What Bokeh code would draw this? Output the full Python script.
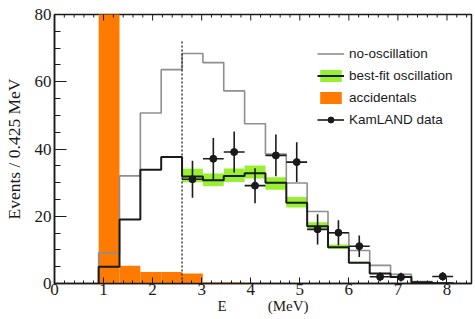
import numpy as np
from bokeh.plotting import figure
from bokeh.models import Range1d, SingleIntervalTicker, Legend, LegendItem
from bokeh.embed import file_html
from bokeh.resources import INLINE

# Prompt-energy binning (MeV)
bin_width = 0.425
bin_lo = [0.9, 1.325, 1.75, 2.175, 2.6, 3.025, 3.45, 3.875, 4.3, 4.725,
          5.15, 5.575, 6.0, 6.425, 6.85, 7.275, 7.7]

# Expected spectra per bin
no_osc = [9.1, 32.0, 50.7, 63.6, 68.4, 65.7, 57.3, 47.5, 38.5, 29.9,
          21.4, 15.1, 9.8, 5.4, 2.7, 0.6, 0.2]
best_fit = [5.0, 19.0, 33.8, 37.6, 31.8, 30.7, 32.0, 32.8, 30.0, 24.0,
            17.0, 10.8, 6.2, 3.0, 1.9, 0.4, 0.1]
accidentals = [100.0, 5.3, 3.4, 3.4, 3.0, 0.3, 0.3, 0.0, 0.0, 0.0,
               0.0, 0.0, 0.0, 0.0, 0.0, 0.0, 0.0]

# Best-fit uncertainty band above the analysis threshold
band_lo_edge = [2.6, 3.025, 3.45, 3.875, 4.3, 4.725, 5.15, 5.575, 6.0]
band_low = [30.1, 28.9, 30.2, 31.2, 27.9, 22.6, 16.3, 10.3, 6.0]
band_high = [34.1, 32.7, 34.2, 35.1, 31.6, 25.7, 18.2, 11.6, 6.5]

# KamLAND data points
data_e = [2.8125, 3.2375, 3.6625, 4.0875, 4.5125, 4.9375, 5.3625, 5.7875,
          6.2125, 6.6375, 7.0625, 7.9125]
data_n = [31.0, 37.1, 39.1, 29.1, 38.1, 36.1, 16.1, 15.1, 11.1, 2.0, 1.9, 2.1]
data_err = [5.5, 6.2, 6.1, 5.2, 6.2, 5.9, 4.5, 3.7, 3.2, 1.3, 1.3, 1.3]

threshold = 2.6
threshold_top = 72

X_MAX, Y_MAX = 8.5, 80
x_major_step = 1
x_minor_step = 0.2
y_major_step = 20

ORANGE = "#ff7b00"
GREEN = "#98f030"
GREY = "#8e8e8e"
INK = "#1a1a1a"
SERIF = "Liberation Serif"
SANS = "Liberation Sans"
NBSP = "\u00a0"


def step_path(lo_edges, width, vals):
    xs, ys = [lo_edges[0]], [0.0]
    for lo, v in zip(lo_edges, vals):
        xs += [lo, lo + width]
        ys += [v, v]
    xs.append(lo_edges[-1] + width)
    ys.append(0.0)
    return xs, ys


p = figure(width=475, height=319, output_backend="svg", toolbar_location=None,
           x_range=Range1d(0, X_MAX), y_range=Range1d(0, Y_MAX),
           min_border_left=53, min_border_right=4, min_border_top=14,
           min_border_bottom=36, background_fill_color="white",
           border_fill_color="white")
p.grid.visible = False
p.outline_line_color = INK
p.outline_line_width = 1.5

# Axes: ticks pointing into the frame
p.xaxis.ticker = SingleIntervalTicker(interval=x_major_step, num_minor_ticks=5)
p.yaxis.ticker = SingleIntervalTicker(interval=y_major_step, num_minor_ticks=4)
for ax in (p.xaxis[0], p.yaxis[0]):
    ax.major_tick_out = 0
    ax.minor_tick_out = 0
    ax.axis_line_color = INK
    ax.axis_line_width = 1.5
    ax.major_tick_line_color = INK
    ax.minor_tick_line_color = INK
    ax.major_label_text_font = SERIF
    ax.major_label_text_font_size = "17px"
    ax.major_label_text_color = INK
    ax.axis_label_text_font = SERIF
    ax.axis_label_text_font_style = "normal"
    ax.axis_label_text_color = INK
p.xaxis.major_tick_in = 6
p.xaxis.minor_tick_in = 3
p.xaxis.major_label_standoff = 0
p.xaxis.axis_label = "E" + NBSP * 11 + "(MeV)"
p.xaxis.axis_label_text_font_size = "15px"
p.xaxis.axis_label_standoff = 0
p.yaxis.major_tick_in = 12
p.yaxis.minor_tick_in = 6
p.yaxis.major_label_standoff = 3
p.yaxis.axis_label = "Events / 0.425 MeV"
p.yaxis.axis_label_text_font_size = "17.5px"
p.yaxis.axis_label_standoff = 8

lo = np.array(bin_lo)

# Accidental background
r_acc = p.quad(left=lo, right=lo + bin_width, bottom=0, top=accidentals,
               fill_color=ORANGE, line_color=None)

# Best-fit uncertainty band
blo = np.array(band_lo_edge)
r_band = p.quad(left=blo, right=blo + bin_width, bottom=band_low, top=band_high,
                fill_color=GREEN, line_color=None)

# Expected spectra
xs, ys = step_path(bin_lo, bin_width, no_osc)
r_noosc = p.line(xs, ys, line_color=GREY, line_width=1.6)
xs, ys = step_path(bin_lo, bin_width, best_fit)
r_fit = p.line(xs, ys, line_color=INK, line_width=2)

# Analysis threshold
p.segment(x0=[threshold], y0=[0], x1=[threshold], y1=[threshold_top],
          line_color=INK, line_width=1.3, line_dash="2 2")

# Data with errors
de = np.array(data_e)
dn = np.array(data_n)
dr = np.array(data_err)
r_xerr = p.segment(x0=de - bin_width / 2, x1=de + bin_width / 2, y0=dn, y1=dn,
                   line_color=INK, line_width=1.6)
p.segment(x0=de, x1=de, y0=dn - dr, y1=dn + dr, line_color=INK, line_width=1.6)
r_pts = p.scatter(de, dn, marker="circle", size=7, fill_color=INK, line_color=INK)

# Mirrored ticks along the top edge of the frame (half of each dash is clipped)
top_major = np.arange(0, X_MAX + 1e-9, x_major_step)
top_all = np.round(np.arange(0, X_MAX + 1e-9, x_minor_step), 6)
top_minor = [t for t in top_all if abs(t - round(t)) > 1e-6]
p.scatter(top_major, [Y_MAX] * len(top_major), marker="dash", angle=np.pi / 2,
          size=12, line_color=INK, line_width=1)
p.scatter(top_minor, [Y_MAX] * len(top_minor), marker="dash", angle=np.pi / 2,
          size=6, line_color=INK, line_width=1)

legend = Legend(items=[
    LegendItem(label="no-oscillation", renderers=[r_noosc]),
    LegendItem(label="best-fit oscillation", renderers=[r_band, r_fit]),
    LegendItem(label="accidentals", renderers=[r_acc]),
    LegendItem(label="KamLAND data", renderers=[r_xerr, r_pts]),
], location=(263, 156), background_fill_alpha=0, border_line_color=None,
    padding=0, margin=0, glyph_width=27, glyph_height=15, label_height=15,
    spacing=7, label_standoff=5, label_text_font=SANS,
    label_text_font_size="13.5px", label_text_color=INK)
p.add_layout(legend)

open("out.html", "w").write(file_html(p, INLINE))
